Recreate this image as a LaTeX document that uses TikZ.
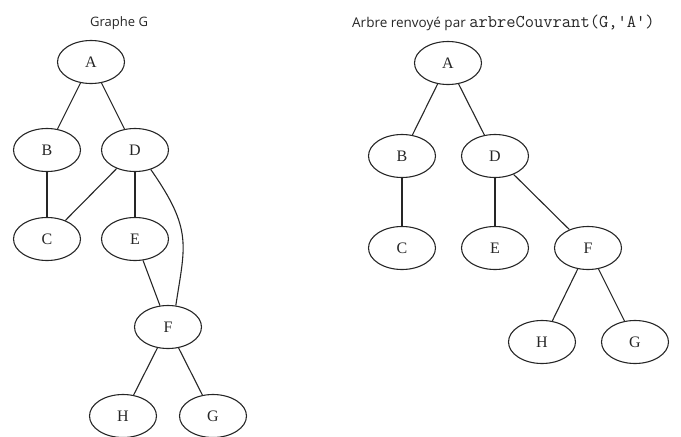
\documentclass[tikz,border=0pt]{standalone}
\usepackage{fontspec}
\setmainfont{Liberation Serif}
\newfontfamily\titlefont{Open Sans}
\usetikzlibrary{shapes.geometric}
\tikzset{
  vertex/.style={draw=black!85, line width=1.1pt, ellipse, minimum width=67pt, minimum height=43pt, inner sep=0pt, font=\fontsize{16}{16}\selectfont, text=black!85},
  edge/.style={draw=black!85, line width=1.1pt},
  titletext/.style={anchor=base west, inner sep=0pt, text=black!85}
}
\begin{document}
\begin{tikzpicture}[x=1pt,y=-1pt]
\useasboundingbox (0,0) rectangle (681,437);
% titles
\node[titletext, font=\titlefont\fontsize{13}{13}\selectfont] (t1) at (90,26) {Graphe G};
\node[titletext, font=\titlefont\fontsize{13.5}{13.5}\selectfont] (t2) at (352,27.5) {Arbre renvoyé par {\ttfamily\fontsize{18}{18}\selectfont arbreCouvrant(G,'A')}};
% left graph
\node[vertex] (lA) at (91,62) {A};
\node[vertex] (lB) at (47,150) {B};
\node[vertex] (lD) at (135,150) {D};
\node[vertex] (lC) at (47,239) {C};
\node[vertex] (lE) at (135,239) {E};
\node[vertex] (lF) at (168,327) {F};
\node[vertex] (lH) at (123,416) {H};
\node[vertex] (lG) at (213,416) {G};
\draw[edge] (lA) -- (lB);
\draw[edge] (lA) -- (lD);
\draw[edge] (lB) -- (lC);
\draw[edge] (lD) -- (lC);
\draw[edge] (lD) -- (lE);
\draw[edge] (lE) -- (lF);
\draw[edge] (lF) -- (lH);
\draw[edge] (lF) -- (lG);
\draw[edge] (lD.-51) .. controls (193,230) and (185,245) .. (lF.70);
% right tree
\node[vertex] (rA) at (448,63) {A};
\node[vertex] (rB) at (402,156) {B};
\node[vertex] (rD) at (495,156) {D};
\node[vertex] (rC) at (402,248) {C};
\node[vertex] (rE) at (495,248) {E};
\node[vertex] (rF) at (588,248) {F};
\node[vertex] (rH) at (542,342) {H};
\node[vertex] (rG) at (635,342) {G};
\draw[edge] (rA) -- (rB);
\draw[edge] (rA) -- (rD);
\draw[edge] (rB) -- (rC);
\draw[edge] (rD) -- (rE);
\draw[edge] (rD) -- (rF);
\draw[edge] (rF) -- (rH);
\draw[edge] (rF) -- (rG);
\end{tikzpicture}
\end{document}
